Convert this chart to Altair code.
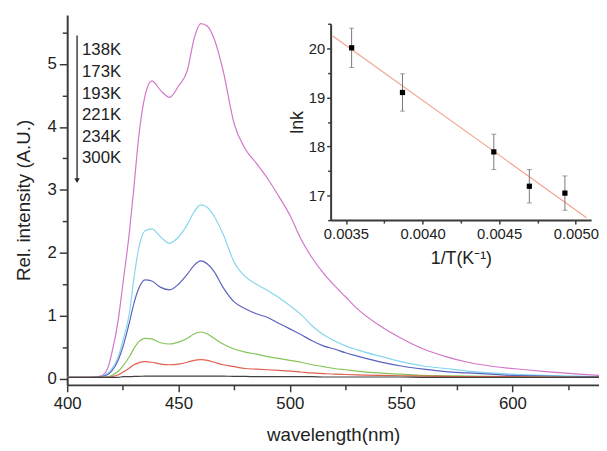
import altair as alt
import pandas as pd

# ---------------- data ----------------
WAVELENGTH = [400, 410, 415, 418, 420, 423, 425, 428, 430, 432, 435, 438, 442, 446, 450,
              454, 457, 460, 463, 466, 470, 475, 480, 485, 490, 495, 500, 505, 510, 515,
              520, 525, 530, 540, 550, 560, 570, 580, 590, 600, 615, 630, 639]

TEMPS = ["138K", "173K", "193K", "221K", "234K", "300K"]
COLORS = ["#d276c8", "#86d6ee", "#5a62c0", "#86c45a", "#e0604e", "#404040"]

I_138 = [0.02, 0.02, 0.04, 0.15, 0.40, 0.95, 1.50, 2.35, 3.05, 3.80, 4.50, 4.73, 4.58, 4.47, 4.65,
         4.90, 5.40, 5.64, 5.60, 5.40, 4.90, 4.05, 3.65, 3.42, 3.18, 2.90, 2.60, 2.22, 1.92, 1.68,
         1.48, 1.30, 1.12, 0.85, 0.64, 0.47, 0.35, 0.26, 0.20, 0.16, 0.11, 0.07, 0.05]
I_173 = [0.02, 0.02, 0.03, 0.08, 0.15, 0.35, 0.60, 1.05, 1.60, 2.05, 2.35, 2.38, 2.25, 2.15, 2.25,
         2.45, 2.65, 2.76, 2.72, 2.58, 2.30, 1.85, 1.62, 1.50, 1.40, 1.29, 1.16, 1.02, 0.84, 0.70,
         0.60, 0.52, 0.46, 0.36, 0.27, 0.20, 0.16, 0.12, 0.09, 0.07, 0.05, 0.04, 0.03]
I_193 = [0.02, 0.02, 0.03, 0.06, 0.12, 0.30, 0.50, 0.90, 1.20, 1.42, 1.57, 1.55, 1.45, 1.41, 1.50,
         1.66, 1.80, 1.87, 1.82, 1.70, 1.45, 1.22, 1.11, 1.03, 0.97, 0.88, 0.79, 0.70, 0.60, 0.52,
         0.47, 0.41, 0.36, 0.27, 0.20, 0.15, 0.11, 0.09, 0.07, 0.05, 0.04, 0.03, 0.03]
I_221 = [0.02, 0.02, 0.02, 0.03, 0.05, 0.12, 0.20, 0.35, 0.48, 0.58, 0.64, 0.63, 0.57, 0.55, 0.58,
         0.64, 0.71, 0.74, 0.71, 0.64, 0.55, 0.47, 0.42, 0.39, 0.35, 0.32, 0.29, 0.26, 0.22, 0.19,
         0.16, 0.14, 0.12, 0.09, 0.07, 0.05, 0.045, 0.04, 0.035, 0.03, 0.025, 0.02, 0.02]
I_234 = [0.02, 0.02, 0.02, 0.02, 0.03, 0.06, 0.10, 0.17, 0.22, 0.25, 0.27, 0.26, 0.23, 0.22, 0.23,
         0.26, 0.29, 0.30, 0.29, 0.26, 0.22, 0.19, 0.16, 0.15, 0.14, 0.13, 0.12, 0.105, 0.09, 0.08,
         0.07, 0.065, 0.06, 0.05, 0.045, 0.04, 0.035, 0.03, 0.03, 0.03, 0.025, 0.02, 0.02]
I_300 = [0.02, 0.02, 0.02, 0.02, 0.02, 0.02, 0.03, 0.03, 0.035, 0.035, 0.04, 0.04, 0.04, 0.04, 0.04,
         0.04, 0.04, 0.04, 0.04, 0.04, 0.04, 0.035, 0.035, 0.03, 0.03, 0.03, 0.03, 0.03, 0.03, 0.025,
         0.025, 0.025, 0.025, 0.025, 0.025, 0.02, 0.02, 0.02, 0.02, 0.02, 0.02, 0.02, 0.02]

# inset (Arrhenius plot)
INV_T = [0.003537, 0.003869, 0.004465, 0.004697, 0.004929]
LNK = [20.01, 19.10, 17.89, 17.19, 17.05]
LNK_ERR = [0.40, 0.38, 0.36, 0.34, 0.35]
FIT_X = [0.003414, 0.00507]
FIT_Y = [20.25, 16.55]

X_TICKS = [400, 450, 500, 550, 600]
X_MINOR = [425, 475, 525, 575, 625]
Y_TICKS = [0, 1, 2, 3, 4, 5]
Y_MINOR = [0.5, 1.5, 2.5, 3.5, 4.5, 5.5]
IX_TICKS = [0.0035, 0.0040, 0.0045, 0.0050]
IX_MINOR = [0.00375, 0.00425, 0.00475]
IY_TICKS = [17, 18, 19, 20]
IY_MINOR = [16.5, 17.5, 18.5, 19.5, 20.5]

# ---------------- tables ----------------
series = [I_138, I_173, I_193, I_221, I_234, I_300]
rows = []
for t, vals in zip(TEMPS, series):
    for w, v in zip(WAVELENGTH, vals):
        rows.append({"wl": w, "I": v, "T": t})
spec = pd.DataFrame(rows)

inset_df = pd.DataFrame({
    "x": INV_T, "y": LNK,
    "lo": [a - e for a, e in zip(LNK, LNK_ERR)],
    "hi": [a + e for a, e in zip(LNK, LNK_ERR)],
})
fit_df = pd.DataFrame({"x": FIT_X, "y": FIT_Y})

FONT = "Liberation Sans"
AX = "#3a3a3a"

W, H = 539, 375
X_DOM = [400, 638.9]
Y_DOM = [-0.1, 5.78]

# inset geometry in plot coordinates
IX_RANGE = [267, 531]
IY_RANGE = [208, 9]
IX_DOM = [0.0034, 0.0051]
IY_DOM = [16.5, 20.5]

x_main = alt.X("wl:Q", scale=alt.Scale(domain=X_DOM, nice=False, zero=False),
               axis=alt.Axis(values=X_TICKS, title="wavelength(nm)", labelFontSize=17,
                             titleFontSize=19, titleFontWeight="normal", tickSize=7,
                             labelPadding=4, titlePadding=14, domainWidth=2, domainColor=AX,
                             tickColor=AX, tickWidth=1.5, labelColor="#222", titleColor="#222",
                             labelFont=FONT, titleFont=FONT, labelFlush=False))
y_main = alt.Y("I:Q", scale=alt.Scale(domain=Y_DOM, nice=False, zero=False),
               axis=alt.Axis(values=Y_TICKS, title="Rel. intensity (A.U.)", labelFontSize=17,
                             titleFontSize=19, titleFontWeight="normal", tickSize=8,
                             labelPadding=3, titlePadding=14, domainWidth=2, domainColor=AX,
                             tickColor=AX, tickWidth=1.5, labelColor="#222", titleColor="#222",
                             labelFont=FONT, titleFont=FONT, labelFlush=False))

lines = alt.Chart(spec).mark_line(strokeWidth=1.2, interpolate="monotone", clip=True).encode(
    x=x_main, y=y_main,
    color=alt.Color("T:N", scale=alt.Scale(domain=TEMPS, range=COLORS), legend=None),
    detail="T:N",
)

main_minor = alt.Chart(spec).mark_point(opacity=0).encode(
    x=alt.X("wl:Q", scale=alt.Scale(domain=X_DOM, nice=False, zero=False),
            axis=alt.Axis(values=X_MINOR, labels=False, title=None, domain=False, tickSize=5,
                          tickColor=AX, tickWidth=1.5, orient="bottom")),
    y=alt.Y("I:Q", scale=alt.Scale(domain=Y_DOM, nice=False, zero=False),
            axis=alt.Axis(values=Y_MINOR, labels=False, title=None, domain=False, tickSize=5,
                          tickColor=AX, tickWidth=1.5, orient="left")),
)

legend_text = alt.Chart(pd.DataFrame({"t": ["\n".join(TEMPS)]})).mark_text(
    align="left", baseline="top", font=FONT, fontSize=17, lineHeight=21.9, color="#222",
    lineBreak="\n"
).encode(text="t:N", x=alt.value(15), y=alt.value(28))

arrow_line = alt.Chart(pd.DataFrame({"a": [0]})).mark_rule(color="#222", strokeWidth=1.3).encode(
    x=alt.value(10), y=alt.value(21), y2=alt.value(166))
arrow_head = alt.Chart(pd.DataFrame({"a": [0]})).mark_point(
    shape="triangle-down", filled=True, color="#222", size=30, opacity=1).encode(
    x=alt.value(10), y=alt.value(168))

# ---------------- inset ----------------
ix_scale = alt.Scale(domain=IX_DOM, range=IX_RANGE, nice=False, zero=False)
iy_scale = alt.Scale(domain=IY_DOM, range=IY_RANGE, nice=False, zero=False)

ix = alt.X("x:Q", scale=ix_scale,
           axis=alt.Axis(values=IX_TICKS, format=".4f", title="1/T(K⁻¹)", orient="bottom",
                         offset=-167, labelFontSize=15, titleFontSize=18,
                         titleFontWeight="normal", tickSize=4, labelPadding=3, titlePadding=8,
                         domainWidth=2, domainColor=AX, tickColor=AX, tickWidth=1.5,
                         labelColor="#222", titleColor="#222", labelFont=FONT, titleFont=FONT,
                         labelFlush=False))
iy = alt.Y("y:Q", scale=iy_scale,
           axis=alt.Axis(values=IY_TICKS, format="d", title="lnk", orient="left", offset=-267,
                         labelFontSize=15, titleFontSize=18, titleFontWeight="normal",
                         tickSize=4, labelPadding=2, titlePadding=2, domainWidth=2,
                         domainColor=AX, tickColor=AX, tickWidth=1.5, labelColor="#222",
                         titleColor="#222", labelFont=FONT, titleFont=FONT, labelFlush=False))

fit = alt.Chart(fit_df).mark_line(color="#f2a48e", strokeWidth=1.2).encode(x=ix, y=iy)
err = alt.Chart(inset_df).mark_rule(color="#777", strokeWidth=1).encode(
    x=ix, y=alt.Y("lo:Q", scale=iy_scale), y2="hi:Q")
cap_lo = alt.Chart(inset_df).mark_tick(color="#777", orient="horizontal", size=5, thickness=1).encode(
    x=ix, y=alt.Y("lo:Q", scale=iy_scale))
cap_hi = alt.Chart(inset_df).mark_tick(color="#777", orient="horizontal", size=5, thickness=1).encode(
    x=ix, y=alt.Y("hi:Q", scale=iy_scale))
pts = alt.Chart(inset_df).mark_square(color="#000", size=28, opacity=1).encode(x=ix, y=iy)

inset = alt.layer(fit, err, cap_lo, cap_hi, pts)

inset_minor = alt.Chart(inset_df).mark_point(opacity=0).encode(
    x=alt.X("x:Q", scale=ix_scale,
            axis=alt.Axis(values=IX_MINOR, labels=False, title=None, domain=False, tickSize=3,
                          tickColor=AX, tickWidth=1.5, orient="bottom", offset=-167)),
    y=alt.Y("y:Q", scale=iy_scale,
            axis=alt.Axis(values=IY_MINOR, labels=False, title=None, domain=False, tickSize=3,
                          tickColor=AX, tickWidth=1.5, orient="left", offset=-267)),
)

main = alt.layer(lines, legend_text, arrow_line, arrow_head)

chart = alt.layer(main, main_minor, inset, inset_minor).resolve_scale(
    x="independent", y="independent"
).properties(
    width=W, height=H,
    autosize=alt.AutoSizeParams(type="none"),
    padding={"left": 60, "top": 4, "right": 0, "bottom": 62},
    background="white",
).configure_axis(grid=False).configure_view(stroke=None)

chart.save("out.html", embed_options={"renderer": "svg", "actions": False})
